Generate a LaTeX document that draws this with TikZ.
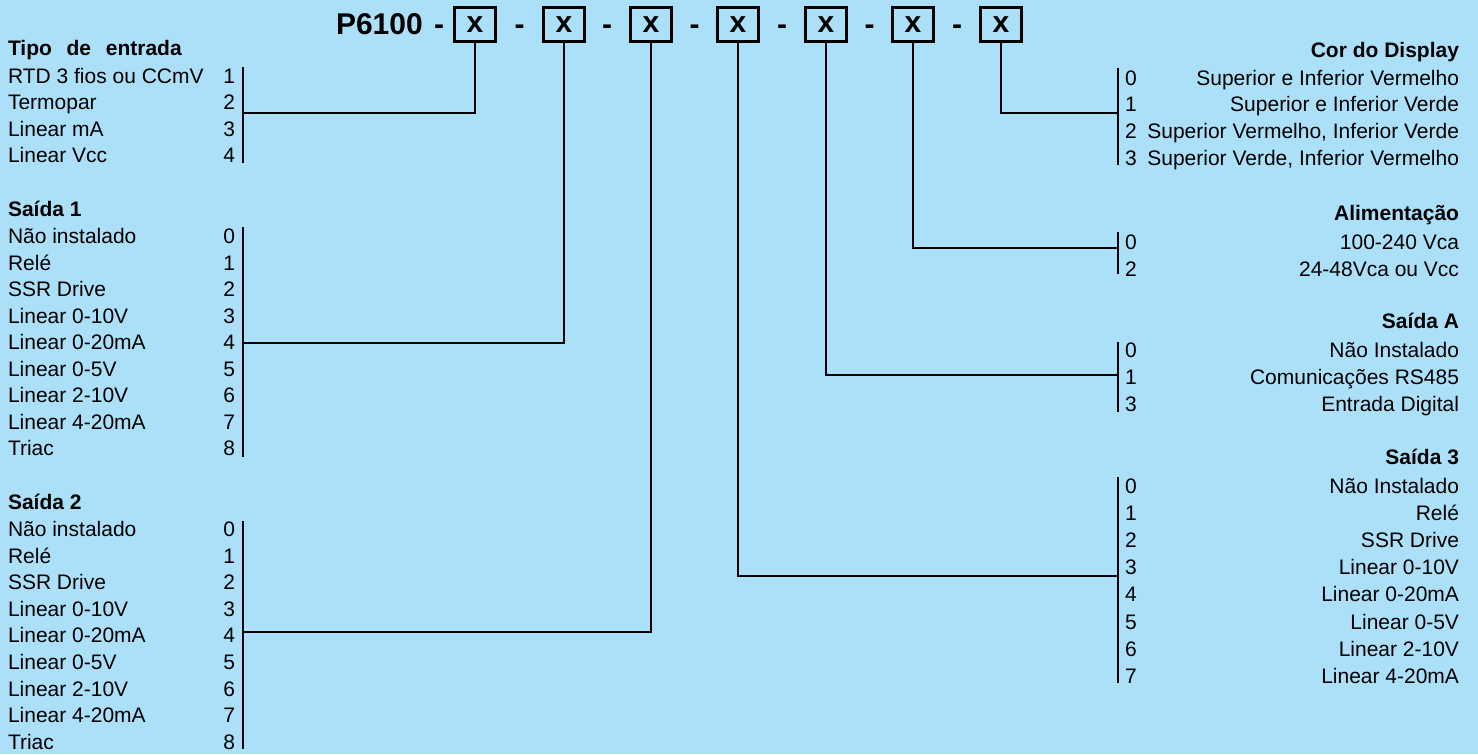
\documentclass[tikz,border=0pt]{standalone}
\usepackage{fontspec}
\setmainfont{Liberation Sans}
\definecolor{bgblue}{RGB}{172,224,249}
\begin{document}
\begin{tikzpicture}[x=0.75pt,y=-0.75pt,
  lt/.style={inner sep=0pt, outer sep=0pt, font=\fontsize{15.75pt}{18pt}\selectfont, text height=11.3pt, text depth=0pt},
  hd/.style={lt, font=\fontsize{15.75pt}{18pt}\selectfont\bfseries},
  big/.style={inner sep=0pt, outer sep=0pt, font=\fontsize{22.5pt}{26pt}\selectfont\bfseries, text height=16.1pt, text depth=0pt},
  codebox/.style={draw, line width=2.2pt, inner sep=0pt, outer sep=0pt, minimum width=31pt, minimum height=26pt, font=\fontsize{22.5pt}{26pt}\selectfont\bfseries},
  conn/.style={line width=2pt},
  brk/.style={line width=2pt}]
\useasboundingbox (0,0) rectangle (1478,754);
\fill[bgblue] (0,0) rectangle (1478,754);

% ---- code line ----
\node[big, anchor=west] (p6100) at (336,24) {P6100};
\node[big] (d0) at (439,24) {-};
\foreach \cx [count=\k] in {475,564,651,738,826,913,1001} {
  \node[codebox] (b\k) at (\cx,24.5) {x};
}
\foreach \dx [count=\k] in {519.5,607,694.5,782,869.5,957} {
  \node[big] (d\k) at (\dx,24) {-};
}

% ---- Tipo de entrada ----
\node[hd, anchor=west] (tipo-h) at (8,48) {Tipo\hspace{0.7em}de\hspace{0.7em}entrada};
\foreach \t [count=\k] in {RTD 3 fios ou CCmV, Termopar, Linear mA, Linear Vcc} {
  \pgfmathsetmacro\yy{75.5+26.5*(\k-1)}
  \node[lt, anchor=west] (tipo-t\k) at (8,\yy) {\t};
  \node[lt, anchor=east] (tipo-n\k) at (235,\yy) {\k};
}
\coordinate (tipo-top) at (243,67);
\coordinate (tipo-bot) at (243,163);
\coordinate (tipo-j) at (243,113);
\draw[brk] (tipo-top) -- (tipo-bot);
\draw[conn] (b1.south) |- (tipo-j);

% ---- Saida 1 ----
\node[hd, anchor=west] (s1-h) at (8,209) {Saída 1};
\foreach \t [count=\k from 0] in {Não instalado, Relé, SSR Drive, Linear 0-10V, Linear 0-20mA, Linear 0-5V, Linear 2-10V, Linear 4-20mA, Triac} {
  \pgfmathsetmacro\yy{236+26.5*\k}
  \node[lt, anchor=west] (s1-t\k) at (8,\yy) {\t};
  \node[lt, anchor=east] (s1-n\k) at (235,\yy) {\k};
}
\coordinate (s1-top) at (243,227);
\coordinate (s1-bot) at (243,457);
\coordinate (s1-j) at (243,343);
\draw[brk] (s1-top) -- (s1-bot);
\draw[conn] (b2.south) |- (s1-j);

% ---- Saida 2 ----
\node[hd, anchor=west] (s2-h) at (8,502) {Saída 2};
\foreach \t [count=\k from 0] in {Não instalado, Relé, SSR Drive, Linear 0-10V, Linear 0-20mA, Linear 0-5V, Linear 2-10V, Linear 4-20mA, Triac} {
  \pgfmathsetmacro\yy{529+26.6*\k}
  \node[lt, anchor=west] (s2-t\k) at (8,\yy) {\t};
  \node[lt, anchor=east] (s2-n\k) at (235,\yy) {\k};
}
\coordinate (s2-top) at (243,521);
\coordinate (s2-bot) at (243,749);
\coordinate (s2-j) at (243,632);
\draw[brk] (s2-top) -- (s2-bot);
\draw[conn] (b3.south) |- (s2-j);

% ---- Cor do Display ----
\node[hd, anchor=east] (cor-h) at (1459,50) {Cor do Display};
\node[lt, anchor=west] (cor-n0) at (1125,77.5) {0};
\node[lt, anchor=east] (cor-t0) at (1459,77.5) {Superior e Inferior Vermelho};
\node[lt, anchor=west] (cor-n1) at (1125,104.2) {1};
\node[lt, anchor=east] (cor-t1) at (1459,104.2) {Superior e Inferior Verde};
\node[lt, anchor=west] (cor-n2) at (1125,130.9) {2};
\node[lt, anchor=east] (cor-t2) at (1459,130.9) {Superior Vermelho, Inferior Verde};
\node[lt, anchor=west] (cor-n3) at (1125,157.6) {3};
\node[lt, anchor=east] (cor-t3) at (1459,157.6) {Superior Verde, Inferior Vermelho};
\coordinate (cor-top) at (1118,68);
\coordinate (cor-bot) at (1118,165);
\coordinate (cor-j) at (1118,113);
\draw[brk] (cor-top) -- (cor-bot);
\draw[conn] (b7.south) |- (cor-j);

% ---- Alimentacao ----
\node[hd, anchor=east] (al-h) at (1459,213) {Alimentação};
\node[lt, anchor=west] (al-n0) at (1125,242) {0};
\node[lt, anchor=east] (al-t0) at (1459,242) {100-240 Vca};
\node[lt, anchor=west] (al-n2) at (1125,269) {2};
\node[lt, anchor=east] (al-t2) at (1459,269) {24-48Vca ou Vcc};
\coordinate (al-top) at (1118,232);
\coordinate (al-bot) at (1118,274);
\coordinate (al-j) at (1118,248);
\draw[brk] (al-top) -- (al-bot);
\draw[conn] (b6.south) |- (al-j);

% ---- Saida A ----
\node[hd, anchor=east] (sa-h) at (1459,321) {Saída A};
\node[lt, anchor=west] (sa-n0) at (1125,350) {0};
\node[lt, anchor=east] (sa-t0) at (1459,350) {Não Instalado};
\node[lt, anchor=west] (sa-n1) at (1125,377) {1};
\node[lt, anchor=east] (sa-t1) at (1459,377) {Comunicações RS485};
\node[lt, anchor=west] (sa-n3) at (1125,404) {3};
\node[lt, anchor=east] (sa-t3) at (1459,404) {Entrada Digital};
\coordinate (sa-top) at (1118,342);
\coordinate (sa-bot) at (1118,412);
\coordinate (sa-j) at (1118,375);
\draw[brk] (sa-top) -- (sa-bot);
\draw[conn] (b5.south) |- (sa-j);

% ---- Saida 3 ----
\node[hd, anchor=east] (s3-h) at (1459,457) {Saída 3};
\foreach \t [count=\k from 0] in {Não Instalado, Relé, SSR Drive, Linear 0-10V, Linear 0-20mA, Linear 0-5V, Linear 2-10V, Linear 4-20mA} {
  \pgfmathsetmacro\yy{485.5+27.2*\k}
  \node[lt, anchor=west] (s3-n\k) at (1125,\yy) {\k};
  \node[lt, anchor=east] (s3-t\k) at (1459,\yy) {\t};
}
\coordinate (s3-top) at (1118,477);
\coordinate (s3-bot) at (1118,683);
\coordinate (s3-j) at (1118,576);
\draw[brk] (s3-top) -- (s3-bot);
\draw[conn] (b4.south) |- (s3-j);
\end{tikzpicture}
\end{document}
